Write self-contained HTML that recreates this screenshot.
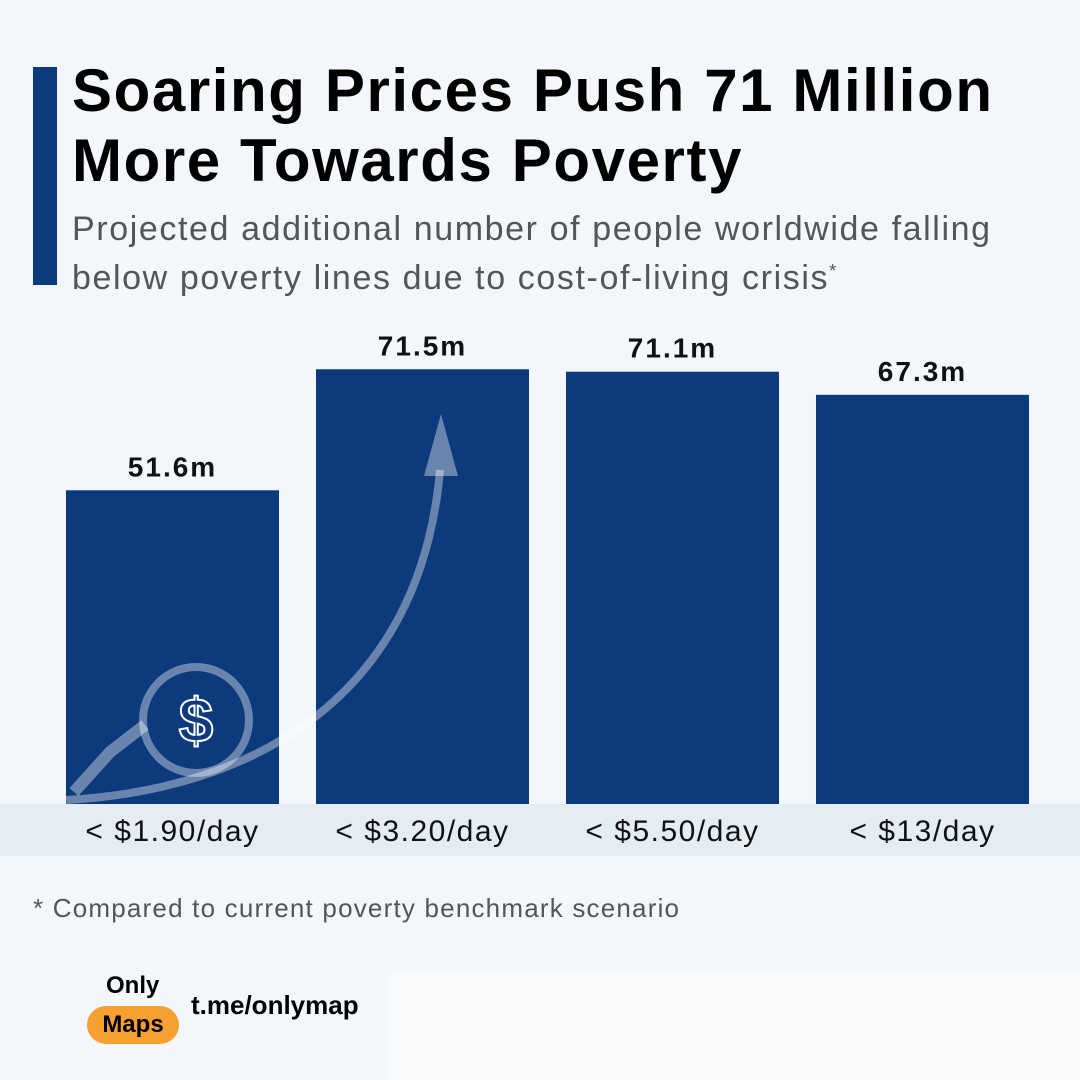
<!DOCTYPE html>
<html><head><meta charset="utf-8"><style>
body{margin:0;width:1080px;height:1080px;background:#f3f6fa;font-family:"Liberation Sans",sans-serif;overflow:hidden;position:relative}
.t{position:absolute;white-space:nowrap}
</style></head><body>
<div style="position:absolute;left:33px;top:67px;width:24px;height:218px;background:#0d3a7d"></div>
<div class="t" style="left:72px;top:56px;font-size:60px;letter-spacing:1.6px;font-weight:bold;line-height:70px;color:#000">Soaring Prices Push 71 Million<br>More Towards Poverty</div>
<div class="t" style="left:72px;top:208px;font-size:34px;letter-spacing:1.6px;line-height:42px;color:#555">Projected additional number of people worldwide falling<br>below poverty lines due to cost-of-living crisis<span style="font-size:18px;vertical-align:12px">*</span></div>
<div style="position:absolute;left:0;top:804px;width:1080px;height:52px;background:#e6ecf4"></div>
<svg id="chart" width="1080" height="1080" style="position:absolute;left:0;top:0"></svg>
<div class="t" style="left:33px;top:893px;font-size:26px;letter-spacing:1.2px;color:#555">* Compared to current poverty benchmark scenario</div>
<div style="position:absolute;left:388px;top:972px;width:692px;height:108px;background:#f7f9fb"></div>
<div class="t" style="left:106px;top:972px;font-size:24px;font-weight:bold;color:#000">Only</div>
<div class="t" style="left:87px;top:1006px;width:92px;height:38px;border-radius:19px;background:#f5a030;font-size:24px;font-weight:bold;text-align:center;line-height:38px;color:#000">Maps</div>
<div class="t" style="left:191px;top:990px;font-size:26px;font-weight:bold;color:#000">t.me/onlymap</div>
<script>
const categories=["< $1.90/day","< $3.20/day","< $5.50/day","< $13/day"];
const values=[51.6,71.5,71.1,67.3];
const valueLabels=["51.6m","71.5m","71.1m","67.3m"];
const svg=document.getElementById('chart');
const NS="http://www.w3.org/2000/svg";
const base=804,scale=6.08,x0=66,step=250,bw=213;
const y=v=>base-v*scale;
const x=i=>x0+i*step;
function mk(tag,attrs){const e=document.createElementNS(NS,tag);for(const k in attrs)e.setAttribute(k,attrs[k]);svg.appendChild(e);return e;}
values.forEach((v,i)=>{
 const r=mk('rect',{x:x(i),y:y(v),width:bw,height:v*scale,fill:'#0d3a7d'});
 
 
 const t=mk('text',{x:x(i)+bw/2,y:y(v)-14,'text-anchor':'middle','font-size':28,'letter-spacing':2,'font-weight':'bold',fill:'#111','font-family':'Liberation Sans'});
 t.textContent=valueLabels[i];
 
 
 const c=mk('text',{x:x(i)+bw/2,y:841,'text-anchor':'middle','font-size':30,'letter-spacing':1.5,fill:'#111','font-family':'Liberation Sans'});
 c.textContent=categories[i];
 
 
});
const g=mk('g',{stroke:'rgba(255,255,255,0.38)',fill:'none','stroke-width':8});


g.innerHTML='<path d="M66 800 C 250 790, 420 700, 440 470"/><circle cx="196" cy="720" r="53"/><path d="M74 792 L110 752 L145 725" stroke-width="12"/>';
const ah=mk('polygon',{points:'424,476 458,476 441,414',fill:'rgba(255,255,255,0.38)'});


const d=mk('text',{x:196,y:742,'text-anchor':'middle','font-size':62,'font-weight':'bold',fill:'none',stroke:'#fff','stroke-width':2,'font-family':'Liberation Sans'});
d.textContent='$';


</script>
</body></html>
